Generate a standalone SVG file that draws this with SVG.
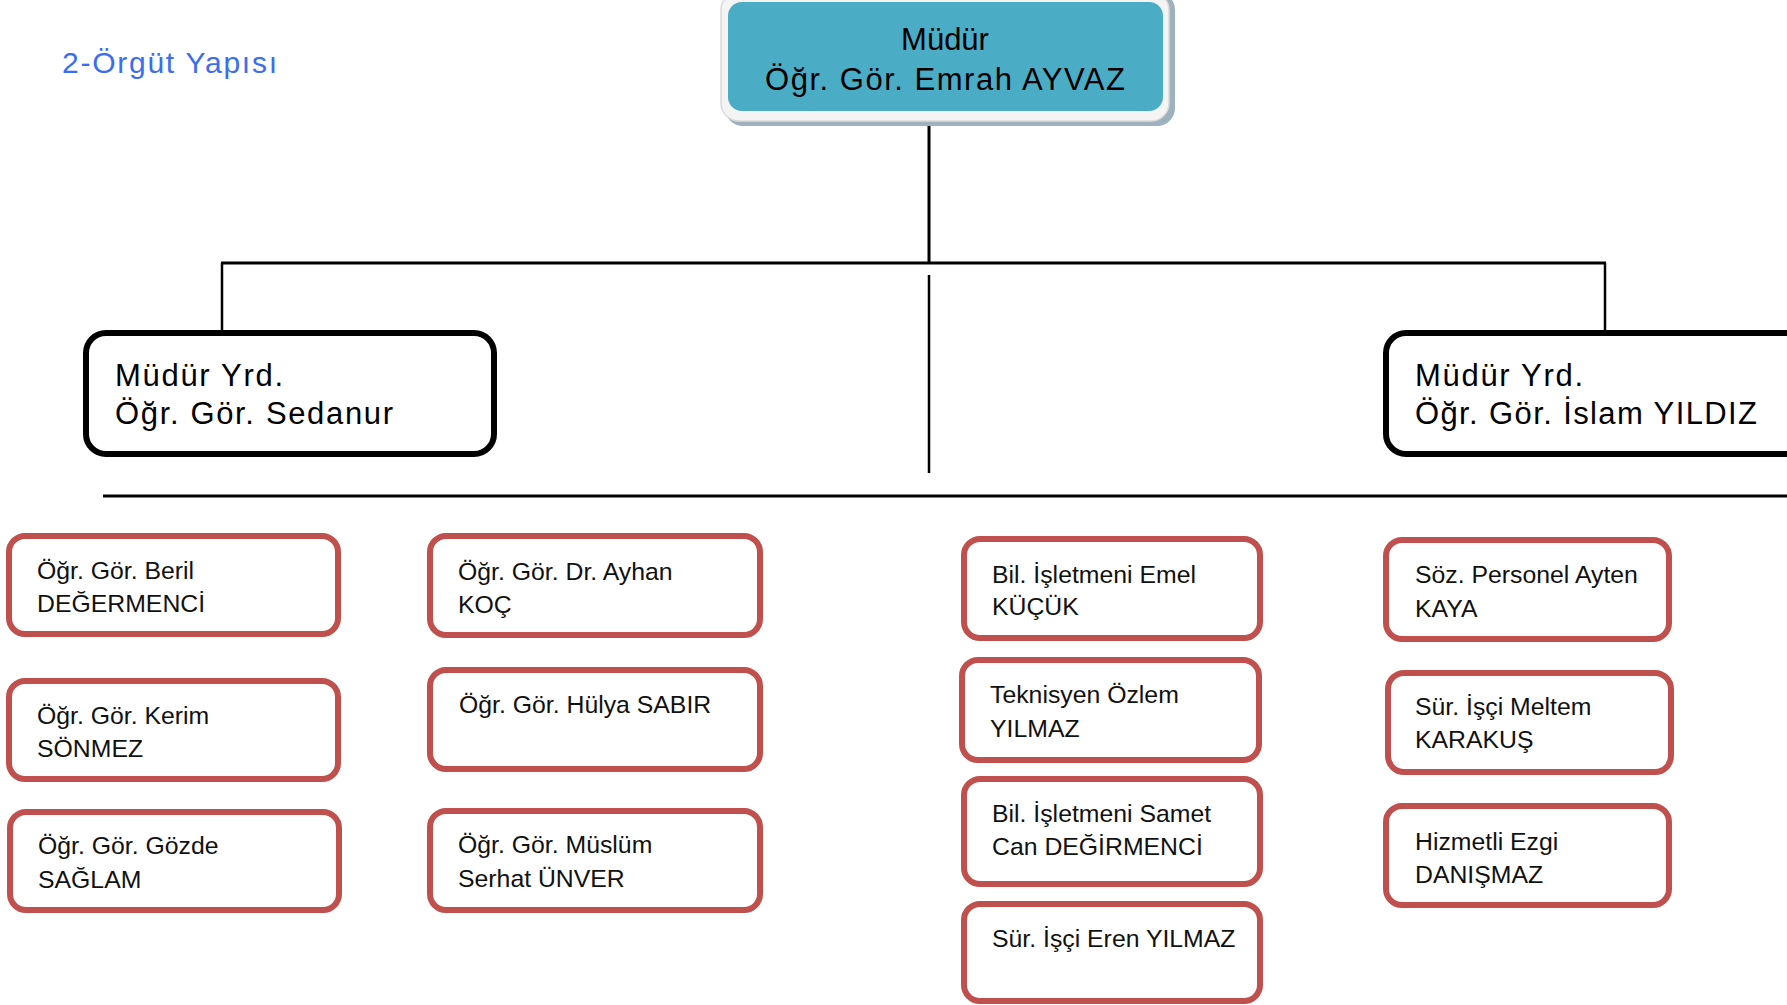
<svg xmlns="http://www.w3.org/2000/svg" width="1787" height="1005" viewBox="0 0 1787 1005">
<style>
.bg{fill:#ffffff}
.line{stroke:#000;fill:none}
.red{fill:#fff;stroke:#C0504D;stroke-width:6}
.vp{fill:#fff;stroke:#000;stroke-width:6}
.t{font-family:"Liberation Sans",Arial,sans-serif;font-size:24.8px;fill:#111}
.g{font-family:"Liberation Sans",Arial,sans-serif;font-size:31px;fill:#000}
.title{font-family:"Liberation Sans",Arial,sans-serif;font-size:30px;fill:#3A6DF0}
</style>
<rect class="bg" x="0" y="0" width="1787" height="1005"/>
<text class="title" x="62" y="73" textLength="215" lengthAdjust="spacing">2-Örgüt Yapısı</text>

<g id="connectors">
<line class="line" x1="929" y1="117" x2="929" y2="264" stroke-width="3"/>
<line class="line" x1="221" y1="263" x2="1606" y2="263" stroke-width="3"/>
<line class="line" x1="222" y1="263" x2="222" y2="331" stroke-width="2.5"/>
<line class="line" x1="1605" y1="263" x2="1605" y2="331" stroke-width="2.5"/>
<line class="line" x1="929" y1="275" x2="929" y2="473" stroke-width="2.5"/>
<line class="line" x1="103" y1="496" x2="1787" y2="496" stroke-width="3"/>
</g>

<g id="mudur">
<rect x="725" y="-8" width="450" height="134" rx="18" fill="#9DB1BE"/>
<rect x="721" y="-8" width="448" height="129" rx="18" fill="#F4F4F4" stroke="#DADADA" stroke-width="1.5"/>
<rect x="728" y="2" width="435" height="109" rx="14" fill="#4BACC6"/>
<text class="g" x="945" y="50" text-anchor="middle">Müdür</text>
<text class="g" x="765" y="90" textLength="360" lengthAdjust="spacing">Öğr. Gör. Emrah AYVAZ</text>
</g>

<g id="yrd1">
<rect class="vp" x="86" y="333" width="408" height="121" rx="20"/>
<text class="g" x="115" y="386" textLength="168" lengthAdjust="spacing">Müdür Yrd.</text>
<text class="g" x="115" y="424" textLength="278" lengthAdjust="spacing">Öğr. Gör. Sedanur</text>
</g>

<g id="yrd2">
<rect class="vp" x="1386" y="333" width="420" height="121" rx="20"/>
<text class="g" x="1415" y="386" textLength="168" lengthAdjust="spacing">Müdür Yrd.</text>
<text class="g" x="1415" y="424" textLength="342" lengthAdjust="spacing">Öğr. Gör. İslam YILDIZ</text>
</g>

<g id="n-beril"><rect class="red" x="9" y="536" width="329" height="98" rx="16"/>
<text class="t" x="37" y="579">Öğr. Gör. Beril</text><text class="t" x="37" y="612">DEĞERMENCİ</text></g>
<g id="n-kerim"><rect class="red" x="9" y="681" width="329" height="98" rx="16"/>
<text class="t" x="37" y="724">Öğr. Gör. Kerim</text><text class="t" x="37" y="757">SÖNMEZ</text></g>
<g id="n-gozde"><rect class="red" x="10" y="812" width="329" height="98" rx="16"/>
<text class="t" x="38" y="854">Öğr. Gör. Gözde</text><text class="t" x="38" y="888">SAĞLAM</text></g>

<g id="n-ayhan"><rect class="red" x="430" y="536" width="330" height="99" rx="16"/>
<text class="t" x="458" y="580">Öğr. Gör. Dr. Ayhan</text><text class="t" x="458" y="613">KOÇ</text></g>
<g id="n-hulya"><rect class="red" x="430" y="670" width="330" height="99" rx="16"/>
<text class="t" x="459" y="713">Öğr. Gör. Hülya SABIR</text></g>
<g id="n-muslum"><rect class="red" x="430" y="811" width="330" height="99" rx="16"/>
<text class="t" x="458" y="853">Öğr. Gör. Müslüm</text><text class="t" x="458" y="887">Serhat ÜNVER</text></g>

<g id="n-emel"><rect class="red" x="964" y="539" width="296" height="99" rx="16"/>
<text class="t" x="992" y="583">Bil. İşletmeni Emel</text><text class="t" x="992" y="615">KÜÇÜK</text></g>
<g id="n-ozlem"><rect class="red" x="962" y="660" width="297" height="100" rx="16"/>
<text class="t" x="990" y="703">Teknisyen Özlem</text><text class="t" x="990" y="737">YILMAZ</text></g>
<g id="n-samet"><rect class="red" x="964" y="779" width="296" height="105" rx="16"/>
<text class="t" x="992" y="822">Bil. İşletmeni Samet</text><text class="t" x="992" y="855">Can DEĞİRMENCİ</text></g>
<g id="n-eren"><rect class="red" x="964" y="904" width="296" height="97" rx="16"/>
<text class="t" x="992" y="947">Sür. İşçi Eren YILMAZ</text></g>

<g id="n-ayten"><rect class="red" x="1386" y="540" width="283" height="99" rx="16"/>
<text class="t" x="1415" y="583">Söz. Personel Ayten</text><text class="t" x="1415" y="617">KAYA</text></g>
<g id="n-meltem"><rect class="red" x="1388" y="673" width="283" height="99" rx="16"/>
<text class="t" x="1415" y="715">Sür. İşçi Meltem</text><text class="t" x="1415" y="748">KARAKUŞ</text></g>
<g id="n-ezgi"><rect class="red" x="1386" y="806" width="283" height="99" rx="16"/>
<text class="t" x="1415" y="850">Hizmetli Ezgi</text><text class="t" x="1415" y="883">DANIŞMAZ</text></g>
</svg>
